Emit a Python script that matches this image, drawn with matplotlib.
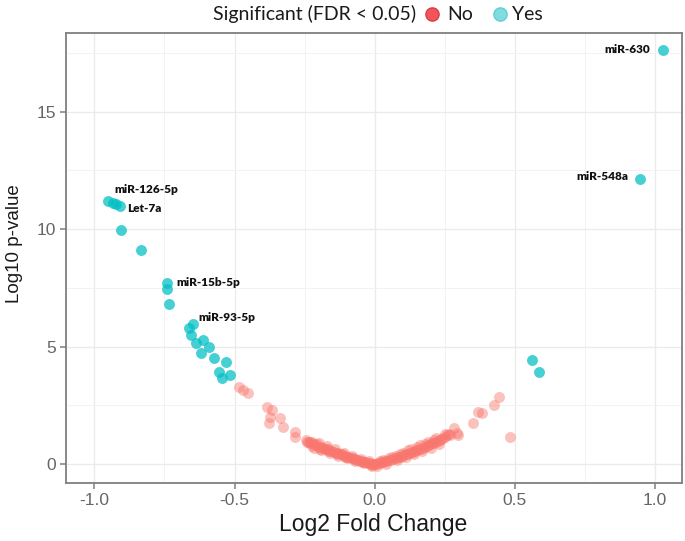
import matplotlib
matplotlib.use('Agg')
import matplotlib.pyplot as plt
from matplotlib.lines import Line2D
from matplotlib.ticker import MultipleLocator

plt.rcParams['font.family'] = ['Liberation Sans', 'DejaVu Sans']

# ---- data ----
sig_x = [1.030, 0.945, 0.560, 0.585, -0.950, -0.933, -0.922, -0.910, -0.905, -0.832,
         -0.740, -0.740, -0.733, -0.648, -0.663, -0.655, -0.614, -0.636, -0.592, -0.618,
         -0.573, -0.530, -0.557, -0.517, -0.545]
sig_y = [17.65, 12.15, 4.45, 3.90, 11.18, 11.13, 11.08, 10.98, 9.95, 9.12,
         7.70, 7.45, 6.82, 5.97, 5.80, 5.50, 5.30, 5.17, 5.00, 4.72,
         4.50, 4.36, 3.93, 3.79, 3.65]

ns_x = [-0.483, -0.469, -0.451, -0.385, -0.367, -0.373, -0.376, -0.338, -0.326, -0.284,
        -0.284, -0.231, -0.242,
        -0.245, -0.238, -0.232, -0.225, -0.218, -0.212, -0.205, -0.198, -0.192, -0.185,
        -0.178, -0.172, -0.165, -0.158, -0.152, -0.145, -0.138, -0.132, -0.125, -0.118,
        -0.112, -0.105, -0.098, -0.092, -0.085, -0.078, -0.072, -0.065, -0.058, -0.052,
        -0.045, -0.038, -0.032, -0.025, -0.018, -0.012, -0.006, 0.000,
        -0.215, -0.190, -0.160, -0.130, -0.100, -0.070, -0.040, -0.200, -0.170, -0.140,
        -0.110, -0.080, -0.050, -0.020,
        -0.225, -0.195, -0.165, -0.135, -0.105, -0.075, -0.045, -0.015, -0.008, 0.008,
        0.006, 0.012, 0.018, 0.025, 0.032, 0.038, 0.045, 0.052, 0.058, 0.065,
        0.072, 0.078, 0.085, 0.092, 0.098, 0.105, 0.112, 0.118, 0.125, 0.132,
        0.138, 0.145, 0.152, 0.158, 0.165, 0.172, 0.178, 0.185, 0.192, 0.198,
        0.205, 0.212, 0.218, 0.225, 0.232, 0.238, 0.245, 0.252, 0.258, 0.265,
        0.030, 0.060, 0.090, 0.120, 0.150, 0.180, 0.210, 0.040, 0.080, 0.110,
        0.140, 0.170, 0.200, 0.230,
        0.020, 0.050, 0.075, 0.100, 0.130, 0.160, 0.190, 0.220, 0.250,
        0.281, 0.298, 0.270, 0.292, 0.352, 0.368, 0.384, 0.426, 0.444, 0.483]
ns_y = [3.29, 3.15, 3.04, 2.41, 2.30, 2.01, 1.73, 1.95, 1.59, 1.38,
        1.15, 0.95, 0.95,
        1.02, 0.95, 0.90, 0.92, 0.85, 0.80, 0.84, 0.74, 0.72, 0.70,
        0.66, 0.62, 0.63, 0.56, 0.55, 0.52, 0.48, 0.47, 0.42, 0.41,
        0.37, 0.36, 0.31, 0.30, 0.27, 0.24, 0.22, 0.19, 0.17, 0.14,
        0.12, 0.10, 0.08, 0.06, 0.04, 0.02, 0.01, 0.00,
        0.70, 0.60, 0.48, 0.36, 0.26, 0.15, 0.05, 0.90, 0.75, 0.62,
        0.48, 0.35, 0.22, 0.12,
        0.78, 0.66, 0.54, 0.42, 0.31, 0.20, 0.09, -0.05, -0.08, -0.07,
        0.01, 0.03, 0.05, 0.07, 0.09, 0.12, 0.14, 0.16, 0.19, 0.21,
        0.24, 0.27, 0.29, 0.32, 0.35, 0.38, 0.41, 0.44, 0.47, 0.50,
        0.53, 0.56, 0.60, 0.63, 0.66, 0.70, 0.73, 0.77, 0.80, 0.84,
        0.88, 0.91, 0.95, 0.99, 1.03, 1.07, 1.12, 1.17, 1.22, 1.30,
        0.18, 0.30, 0.44, 0.58, 0.72, 0.86, 1.02, 0.02, 0.16, 0.28,
        0.42, 0.56, 0.70, 0.85,
        0.12, 0.24, 0.36, 0.48, 0.63, 0.79, 0.95, 1.12, 1.28,
        1.52, 1.23, 1.25, 1.34, 1.76, 2.23, 2.16, 2.51, 2.86, 1.16]

label_names = ['miR-630', 'miR-548a', 'miR-126-5p', 'Let-7a', 'miR-15b-5p', 'miR-93-5p']
label_x = [0.982, 0.904, -0.930, -0.884, -0.709, -0.630]
label_y = [17.67, 12.23, 11.71, 10.90, 7.73, 6.22]
label_ha = ['right', 'right', 'left', 'left', 'left', 'left']

x_ticks = [-1.0, -0.5, 0.0, 0.5, 1.0]
x_ticklabels = ['-1.0', '-0.5', '0.0', '0.5', '1.0']
y_ticks = [0, 5, 10, 15]
y_ticklabels = ['0', '5', '10', '15']

RED = '#F8766D'
TEAL = '#00BFC4'

fig = plt.figure(figsize=(6.85, 5.41), dpi=100)
W, H = 685, 541
ax = fig.add_axes([65.5 / W, 1 - 483.3 / H, (682 - 65.5) / W, (483.3 - 33.3) / H])

ax.scatter(ns_x, ns_y, s=62, color=RED, alpha=0.45, linewidths=0, zorder=3)
ax.scatter(sig_x, sig_y, s=62, color=TEAL, alpha=0.72, linewidths=0, zorder=3)

for n, x, y, ha in zip(label_names, label_x, label_y, label_ha):
    ax.text(x, y, n, ha=ha, va='center', fontsize=8.5, fontweight='heavy',
            family='Lato', color='#111111', zorder=4)

ax.set_xlim(-1.103, 1.096)
ax.set_ylim(-0.82, 18.34)
ax.set_xticks(x_ticks)
ax.set_xticklabels(x_ticklabels)
ax.set_yticks(y_ticks)
ax.set_yticklabels(y_ticklabels)
ax.xaxis.set_minor_locator(MultipleLocator(0.25))
ax.yaxis.set_minor_locator(MultipleLocator(2.5))
ax.grid(True, which='major', color='#EBEBEB', lw=1.0, zorder=0)
ax.grid(True, which='minor', color='#F2F2F2', lw=0.7, zorder=0)
ax.set_axisbelow(True)
ax.tick_params(which='minor', length=0)
ax.tick_params(which='major', length=4, width=1.1, color='#7f7f7f',
               labelcolor='#666666', labelsize=12.5, pad=3)
for sp in ax.spines.values():
    sp.set_color('#7f7f7f')
    sp.set_linewidth(1.3)

fig.text(373 / W, 1 - 524 / H, 'Log2 Fold Change', ha='center', va='center',
         fontsize=16.5, color='#1a1a1a')
fig.text(15 / W, 1 - 244 / H, 'Log10 p-value', ha='center', va='center',
         rotation=90, fontsize=13.5, color='#1a1a1a')

# legend
ly = 1 - 14 / H
fig.text(213 / W, ly, 'Significant (FDR < 0.05)', ha='left', va='center',
         fontsize=14, family='Lato', color='#1a1a1a')
fig.add_artist(Line2D([432 / W], [ly], marker='o', markersize=9.5, color='none',
                      markerfacecolor='#F0555A', markeredgecolor='#E03A40',
                      transform=fig.transFigure))
fig.text(447 / W, ly, 'No', ha='left', va='center', fontsize=14, family='Lato', color='#1a1a1a')
fig.add_artist(Line2D([500 / W], [ly], marker='o', markersize=9.5, color='none',
                      markerfacecolor='#7FDDE0', markeredgecolor='#5FCFD3',
                      transform=fig.transFigure))
fig.text(512 / W, ly, 'Yes', ha='left', va='center', fontsize=14, family='Lato', color='#1a1a1a')

fig.savefig('out.png', dpi=100)
